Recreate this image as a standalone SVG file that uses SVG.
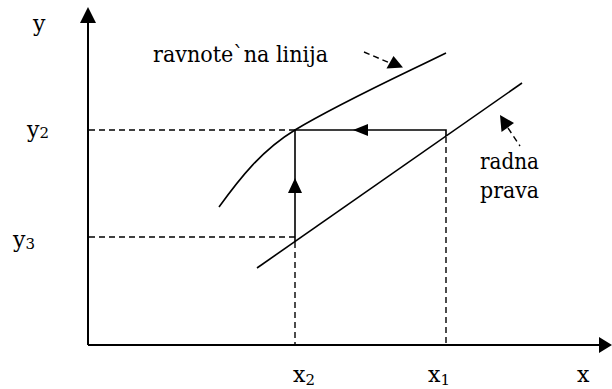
<svg xmlns="http://www.w3.org/2000/svg" width="612" height="389" viewBox="0 0 612 389">
<style>
.ax{stroke:#000;stroke-width:2;fill:none}
.ln{stroke:#000;stroke-width:1.6;fill:none}
.ds{stroke:#000;stroke-width:1.4;fill:none;stroke-dasharray:6,4}
.hd{fill:#000;stroke:none}
.lb{font-family:"DejaVu Serif","Liberation Serif",serif;font-size:22px;fill:#000}
.sub{font-size:15px}
</style>
<rect width="612" height="389" fill="#fff"/>
<g id="axes">
<line class="ax" x1="88" y1="345" x2="88" y2="22"/>
<polygon class="hd" points="88,7 80,23 96,23"/>
<line class="ax" x1="88" y1="345" x2="599" y2="345"/>
<polygon class="hd" points="612,345 599,337 599,353"/>
</g>
<g id="equilibrium-line">
<path class="ln" d="M219,207 C240,178 262,150 295,130 C340,103 395,78 446,53"/>
</g>
<g id="operating-line">
<line class="ln" x1="257" y1="268" x2="522" y2="83"/>
</g>
<g id="connectors">
<line class="ds" x1="89" y1="130" x2="295" y2="130"/>
<line class="ds" x1="89" y1="237" x2="295" y2="237"/>
<line class="ds" x1="295" y1="242" x2="295" y2="344"/>
<line class="ds" x1="446" y1="137" x2="446" y2="344"/>
<polyline class="ln" points="446,136 446,130 295,130 295,242"/>
<polygon class="hd" points="353,130 368,124 368,136"/>
<polygon class="hd" points="295,178 288,193 302,193"/>
<line class="ds" x1="364" y1="52" x2="390" y2="63"/>
<polygon class="hd" points="403,67.5 386.5,68.5 393.5,56"/>
<line class="ds" x1="508" y1="128" x2="520" y2="146"/>
<polygon class="hd" points="500,115 501.5,132 514,123"/>
</g>
<g id="labels">
<text class="lb" x="33" y="31">y</text>
<text class="lb" x="153" y="62" textLength="175" lengthAdjust="spacingAndGlyphs">ravnote`na linija</text>
<text class="lb" x="27" y="137">y<tspan class="sub" dy="1">2</tspan></text>
<text class="lb" x="13" y="247">y<tspan class="sub" dy="2">3</tspan></text>
<text class="lb" x="480" y="169" textLength="59" lengthAdjust="spacingAndGlyphs">radna</text>
<text class="lb" x="480" y="198" textLength="59" lengthAdjust="spacingAndGlyphs">prava</text>
<text class="lb" x="293" y="382">x<tspan class="sub" dy="3">2</tspan></text>
<text class="lb" x="428" y="382">x<tspan class="sub" dy="3">1</tspan></text>
<text class="lb" x="577" y="382">x</text>
</g>
</svg>
